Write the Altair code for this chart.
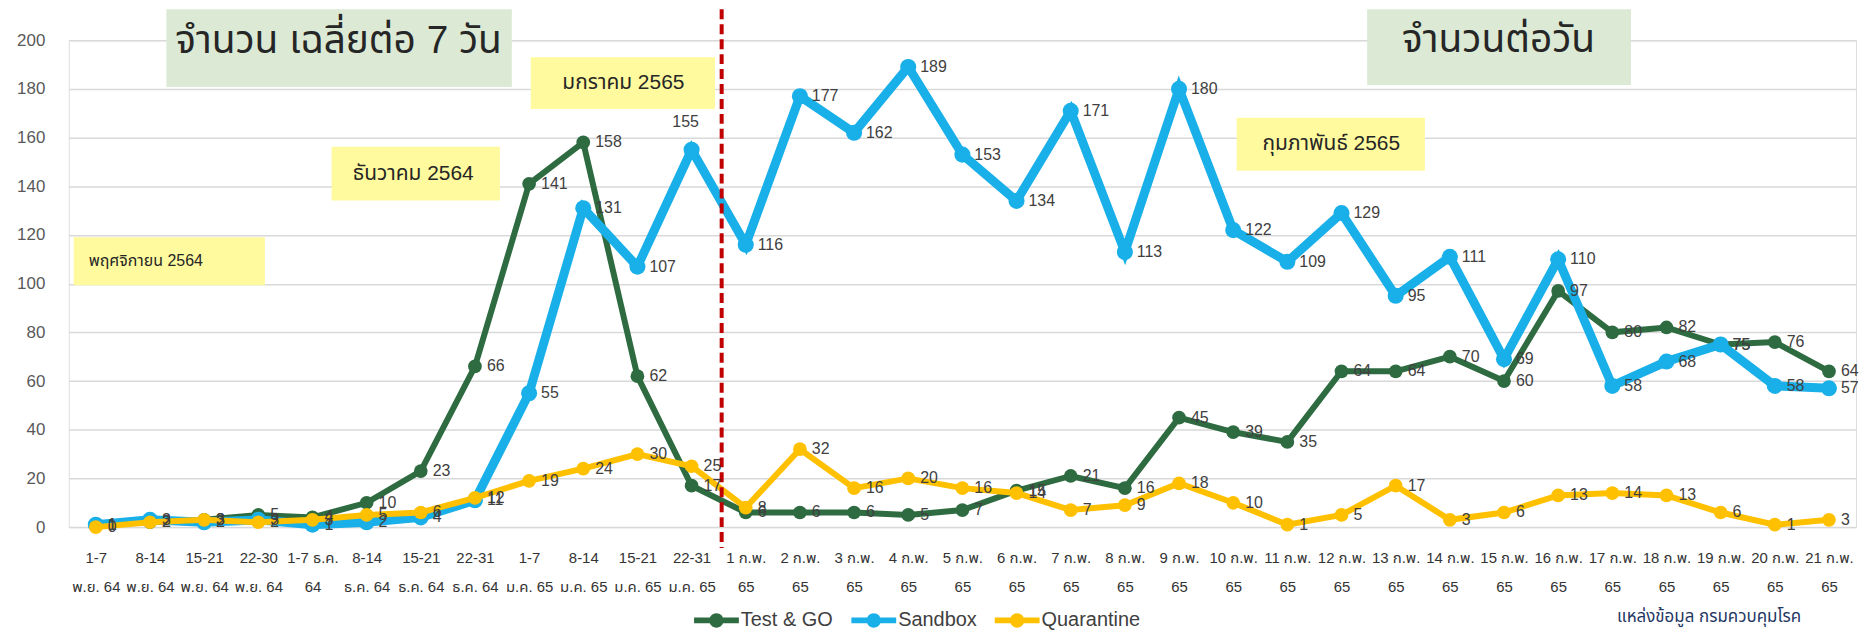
import altair as alt
import pandas as pd

# ---------------- data ----------------
categories = [
    "1-7\nพ.ย. 64", "8-14\nพ.ย. 64", "15-21\nพ.ย. 64", "22-30\nพ.ย. 64",
    "1-7 ธ.ค.\n64", "8-14\nธ.ค. 64", "15-21\nธ.ค. 64", "22-31\nธ.ค. 64",
    "1-7\nม.ค. 65", "8-14\nม.ค. 65", "15-21\nม.ค. 65", "22-31\nม.ค. 65",
    "1 ก.พ.\n65", "2 ก.พ.\n65", "3 ก.พ.\n65", "4 ก.พ.\n65", "5 ก.พ.\n65",
    "6 ก.พ.\n65", "7 ก.พ.\n65", "8 ก.พ.\n65", "9 ก.พ.\n65", "10 ก.พ.\n65",
    "11 ก.พ.\n65", "12 ก.พ.\n65", "13 ก.พ.\n65", "14 ก.พ.\n65", "15 ก.พ.\n65",
    "16 ก.พ.\n65", "17 ก.พ.\n65", "18 ก.พ.\n65", "19 ก.พ.\n65", "20 ก.พ.\n65",
    "21 ก.พ.\n65",
]
series_names = ["Test & GO", "Sandbox", "Quarantine"]
test_and_go = [1, 2, 3, 5, 4, 10, 23, 66, 141, 158, 62, 17,
               6, 6, 6, 5, 7, 15, 21, 16, 45, 39, 35, 64, 64, 70, 60, 97, 80, 82, 75, 76, 64]
sandbox = [1, 3, 2, 3, 1, 2, 4, 11, 55, 131, 107, 155,
           116, 177, 162, 189, 153, 134, 171, 113, 180, 122, 109, 129, 95, 111, 69, 110, 58, 68, 75, 58, 57]
quarantine = [0, 2, 3, 2, 3, 5, 6, 12, 19, 24, 30, 25,
              8, 32, 16, 20, 16, 14, 7, 9, 18, 10, 1, 5, 17, 3, 6, 13, 14, 13, 6, 1, 3]
y_ticks = [0, 20, 40, 60, 80, 100, 120, 140, 160, 180, 200]
split_category = "22-31\nม.ค. 65"   # last weekly category; daily values follow

title_weekly = "จำนวน เฉลี่ยต่อ 7 วัน"
title_daily = "จำนวนต่อวัน"
month_labels = ["พฤศจิกายน 2564", "ธันวาคม 2564", "มกราคม 2565", "กุมภาพันธ์ 2565"]
source_text = "แหล่งข้อมูล กรมควบคุมโรค"

# ---------------- styles ----------------
W, H = 1795, 489
FONT = "Liberation Sans, Noto Sans Thai, Noto Sans, sans-serif"
colors = ["#2E6B40", "#19AFE8", "#FFC000"]
line_widths = [6, 9, 6]
point_sizes = [190, 260, 190]
STEP = W / len(categories)

rows = []
for name, vals in zip(series_names, [test_and_go, sandbox, quarantine]):
    for c, v in zip(categories, vals):
        rows.append({"cat": c, "series": name, "value": v})
df = pd.DataFrame(rows)

xscale = alt.Scale(type="point", domain=categories, padding=0.5)
xenc = alt.X("cat:N", sort=categories, scale=xscale,
             axis=alt.Axis(title=None, labelExpr="split(datum.label, '\\n')",
                           labelAngle=0, labelOverlap=False, labelFontSize=15,
                           labelColor="#333333", labelFont=FONT, labelPadding=24,
                           labelLineHeight=29, domain=True, domainColor="#D9D9D9",
                           ticks=False, grid=False))
yenc = alt.Y("value:Q", scale=alt.Scale(domain=[0, 200], nice=False),
             axis=alt.Axis(title=None, values=y_ticks, labelFontSize=17,
                           labelColor="#595959", labelFont=FONT, labelPadding=24,
                           domain=False, ticks=False, grid=True, gridColor="#D9D9D9",
                           gridWidth=1.5))

base = alt.Chart(df)
layers = []

# annotation boxes (decorations, pixel placed)
def box(x1, x2, y1, y2, color):
    return alt.Chart(pd.DataFrame({"k": [0]})).mark_rect(color=color).encode(
        x=alt.value(x1), x2=alt.value(x2), y=alt.value(y1), y2=alt.value(y2))

def label(text, x, y, size, color="#262626", align="center"):
    return alt.Chart(pd.DataFrame({"t": [text]})).mark_text(
        fontSize=size, font=FONT, color=color, align=align, baseline="middle"
    ).encode(x=alt.value(x), y=alt.value(y), text="t:N")

GREEN_BOX = "#DCEAD5"
YELLOW_BOX = "#FFFA9E"
layers += [
    box(98, 445, -31, 47, GREEN_BOX),
    box(1304, 1569, -31, 45, GREEN_BOX),
    box(5, 197, 198, 246, YELLOW_BOX),
    box(264, 433, 107, 161, YELLOW_BOX),
    box(464, 649, 17, 69, YELLOW_BOX),
    box(1173, 1362, 78, 131, YELLOW_BOX),
    label(title_weekly, 271, 1, 39),
    label(title_daily, 1436, 0, 39),
    label(month_labels[0], 20, 222, 16, align="left"),
    label(month_labels[1], 346, 134, 21),
    label(month_labels[2], 557, 43, 21),
    label(month_labels[3], 1268, 104, 21),
    label(source_text, 1555, 579, 17, color="#1F3864", align="left"),
]

# red dashed divider between weekly and daily sections
divider = alt.Chart(pd.DataFrame({"cat": [split_category]})).mark_rule(
    color="#C00000", strokeWidth=4, strokeDash=[10, 5], xOffset=STEP / 2 + 3
).encode(x=alt.X("cat:N", sort=categories, scale=xscale),
         y=alt.value(-31), y2=alt.value(510))

legend_path = ("M-1,-0.13 H1 V0.13 H-1 Z "
               "M0.32,0 A0.32,0.32 0 1,1 -0.32,0 A0.32,0.32 0 1,1 0.32,0 Z")
color_enc = alt.Color("series:N", scale=alt.Scale(domain=series_names, range=colors),
                      legend=alt.Legend(title=None, orient="none", legendX=628,
                                        legendY=560, direction="horizontal",
                                        symbolType=legend_path, symbolSize=2025,
                                        symbolStrokeWidth=0, labelFontSize=20,
                                        labelFont=FONT, labelColor="#404040",
                                        labelOffset=2, columnPadding=18))

for name, col, lw, ps in zip(series_names, colors, line_widths, point_sizes):
    sub = base.transform_filter(alt.datum.series == name)
    layers.append(sub.mark_line(color=col, strokeWidth=lw).encode(x=xenc, y=yenc))
    layers.append(sub.mark_point(filled=True, opacity=1, size=ps, shape="circle").encode(
        x=xenc, y=yenc, color=color_enc))

layers.append(divider)

# the Sandbox label at the divider sits above its point, all others to the right
is_above = (alt.datum.series == "Sandbox") & (alt.datum.cat == split_category)
layers.append(base.transform_filter(~is_above).mark_text(
    align="left", baseline="middle", dx=12, fontSize=16, font=FONT, color="#404040"
).encode(x=xenc, y=yenc, text="value:Q"))
layers.append(base.transform_filter(is_above).mark_text(
    align="center", baseline="middle", dx=-6, dy=-28, fontSize=16, font=FONT,
    color="#404040"
).encode(x=xenc, y=yenc, text="value:Q"))

chart = alt.layer(*layers).properties(
    width=W, height=H,
    autosize=alt.AutoSizeParams(type="none"),
    padding={"left": 61, "top": 31, "right": 11, "bottom": 105},
).configure_view(stroke=None).configure(background="white")

chart.save("out.html", embed_options={"renderer": "svg", "actions": False})
